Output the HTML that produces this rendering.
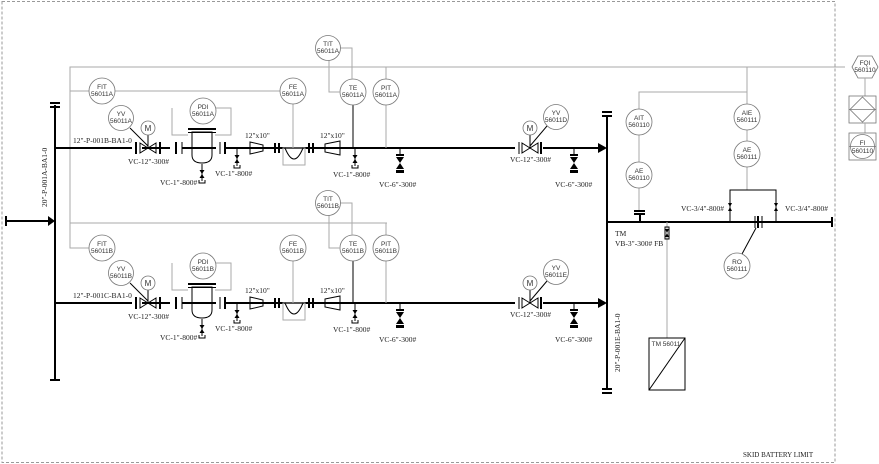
<!DOCTYPE html>
<html><head><meta charset="utf-8"><style>
html,body{margin:0;padding:0;background:#fff;}
svg{display:block;}
.s{font-family:"Liberation Serif",serif;font-size:7.5px;fill:#222;}
.b{font-family:"Liberation Sans",sans-serif;font-size:6.5px;fill:#333;text-anchor:middle;}
.g{stroke:#aaa;stroke-width:1;fill:none;}
.k{stroke:#000;stroke-width:2;fill:none;}
.t{stroke:#000;stroke-width:1;fill:none;}
.c{stroke:#777;stroke-width:0.8;fill:#fff;}
</style></head><body>
<svg width="879" height="464" viewBox="0 0 879 464" xmlns="http://www.w3.org/2000/svg">
<defs>
<g id="dr"><line x1="0" y1="0" x2="0" y2="17" class="t"/><path d="M-2.5,6 L2.5,6 L0,10 Z M-2.5,14 L2.5,14 L0,10 Z" fill="#000"/><path d="M-3,16 L-3,19 L3,19 L3,16" class="t"/></g>
<g id="v6"><line x1="0" y1="0" x2="0" y2="6" class="t"/><rect x="-4" y="6" width="8" height="2" fill="#000"/><path d="M-4,9 L4,9 L0,15 Z M-4,21 L4,21 L0,15 Z" fill="#000"/><rect x="-4" y="22" width="8" height="3" fill="#000"/></g>
</defs>
<rect x="2" y="1.5" width="833" height="461" fill="none" stroke="#999" stroke-dasharray="3,2"/>
<!-- left header -->
<line x1="55" y1="105" x2="55" y2="380" class="k"/>
<line x1="50" y1="103" x2="60" y2="103" class="k"/><line x1="50" y1="107" x2="60" y2="107" class="k" stroke-width="1.5"/>
<line x1="50" y1="380" x2="60" y2="380" class="k"/>
<line x1="6" y1="221" x2="50" y2="221" class="k"/><line x1="6" y1="216" x2="6" y2="226" class="k"/><path d="M48,216 L55,221 L48,226 Z"/>
<text class="s" transform="translate(47,207) rotate(-90)">20"-P-001A-BA1-0</text>
<!-- signal lines -->
<polyline points="845,67 70,67 70,248 90,248" class="g"/>
<line x1="70" y1="91" x2="280" y2="91" class="g"/>
<line x1="70" y1="223" x2="387" y2="223" class="g"/>

<!-- ROW A -->
<g id="rowA">
<line x1="55" y1="148" x2="600" y2="148" class="k"/><path d="M598,143 L607,148 L598,153 Z"/>
<text class="s" x="73" y="143">12"-P-001B-BA1-0</text>
<rect x="132" y="140" width="10" height="16" fill="#fff"/>
<line x1="136" y1="142" x2="136" y2="154" class="k"/>
<path d="M140,143 L156,153 L156,143 L140,153 Z" class="t" fill="#fff"/>
<line x1="160" y1="142" x2="160" y2="154" class="k"/>
<line x1="148" y1="148" x2="148" y2="135" class="t"/><circle cx="148" cy="128" r="7" class="c"/><text class="b" x="148" y="131" style="font-size:8px">M</text>
<line x1="148" y1="146" x2="130" y2="128" class="t" stroke-width="0.6"/>
<circle cx="121" cy="118" r="12.5" class="c"/><text class="b" x="121" y="116">YV</text><text class="b" x="121" y="123">56011A</text>
<circle cx="102" cy="91" r="13" class="c"/><text class="b" x="102" y="89">FIT</text><text class="b" x="102" y="96">56011A</text>
<text class="s" x="128" y="164">VC-12"-300#</text>
<rect x="170" y="140" width="12" height="16" fill="#fff"/>
<line x1="176" y1="142" x2="176" y2="154" class="k"/><line x1="182" y1="142" x2="182" y2="154" class="t"/>
<line x1="182" y1="148" x2="192" y2="148" class="t"/>
<polyline points="172,108 172,135 188,135" class="g" stroke="#888"/><polyline points="216,108 231,108 231,135 215,135" class="g" stroke="#888"/>
<circle cx="203" cy="111" r="13" class="c"/><text class="b" x="203" y="109">PDI</text><text class="b" x="203" y="116">56011A</text>
<path d="M192,132 L192,155 Q192,163 202,163 Q212,163 212,155 L212,132 Z" class="t" fill="#fff"/>
<line x1="188" y1="129" x2="216" y2="129" class="k"/><line x1="188" y1="132.5" x2="216" y2="132.5" class="t"/>
<line x1="212" y1="148" x2="220" y2="148" class="t"/>
<rect x="216" y="140" width="10" height="16" fill="#fff"/>
<line x1="220" y1="142" x2="220" y2="154" class="t"/><line x1="225" y1="142" x2="225" y2="154" class="k"/>
<use href="#dr" x="202" y="164"/><text class="s" x="160" y="185">VC-1"-800#</text>
<use href="#dr" x="237" y="149"/><text class="s" x="215" y="176">VC-1"-800#</text>
<path d="M250,142 L263,145 L263,151 L250,154 Z" class="t" fill="#fff"/><text class="s" x="245" y="138">12"x10"</text>
<line x1="275" y1="143" x2="275" y2="153" class="k"/><line x1="279" y1="143" x2="279" y2="153" class="k"/>
<rect x="283" y="148" width="22" height="17" class="g" stroke="#777"/><path d="M285,148 Q294,170 303,148" class="t"/>
<line x1="293" y1="104" x2="293" y2="148" class="g"/>
<circle cx="293" cy="91" r="13" class="c"/><text class="b" x="293" y="89">FE</text><text class="b" x="293" y="96">56011A</text>
<line x1="309" y1="143" x2="309" y2="153" class="k"/><line x1="313" y1="143" x2="313" y2="153" class="k"/>
<path d="M325,144 L340,141 L340,155 L325,152 Z" class="t" fill="#fff"/><text class="s" x="320" y="138">12"x10"</text>
<use href="#dr" x="355" y="149"/><text class="s" x="333" y="177">VC-1"-800#</text>
<line x1="353" y1="104" x2="353" y2="148" class="t" stroke="#777"/>
<circle cx="353" cy="92" r="13" class="c"/><text class="b" x="353" y="90">TE</text><text class="b" x="353" y="97">56011A</text>
<polyline points="340,92 329,92 329,60" class="g"/><polyline points="340,48 352,48 352,79" class="g"/>
<circle cx="328" cy="48" r="12.5" class="c"/><text class="b" x="328" y="46">TIT</text><text class="b" x="328" y="53">56011A</text>
<line x1="386" y1="67" x2="386" y2="80" class="g"/><line x1="386" y1="105" x2="386" y2="148" class="g"/>
<circle cx="386" cy="92" r="13" class="c"/><text class="b" x="386" y="90">PIT</text><text class="b" x="386" y="97">56011A</text>
<use href="#v6" x="400" y="148"/><text class="s" x="379" y="187">VC-6"-300#</text>
<rect x="515" y="140" width="28" height="16" fill="#fff"/>
<line x1="519" y1="142" x2="519" y2="154" class="t"/>
<path d="M522,143 L538,153 L538,143 L522,153 Z" class="t" fill="#fff"/>
<line x1="541" y1="142" x2="541" y2="154" class="k"/>
<line x1="530" y1="148" x2="530" y2="135" class="t"/><circle cx="530" cy="128" r="7" class="c"/><text class="b" x="530" y="131" style="font-size:8px">M</text>
<line x1="530" y1="146" x2="547" y2="126" class="t" stroke-width="0.6"/>
<circle cx="556" cy="117" r="12.5" class="c"/><text class="b" x="556" y="115">YV</text><text class="b" x="556" y="122">56011D</text>
<text class="s" x="510" y="162">VC-12"-300#</text>
<use href="#v6" x="574" y="148"/><text class="s" x="555" y="187">VC-6"-300#</text>
</g>

<!-- ROW B -->
<g transform="translate(0,155)">
<line x1="55" y1="148" x2="600" y2="148" class="k"/><path d="M598,143 L607,148 L598,153 Z"/>
<text class="s" x="73" y="143">12"-P-001C-BA1-0</text>
<rect x="132" y="140" width="10" height="16" fill="#fff"/>
<line x1="136" y1="142" x2="136" y2="154" class="k"/>
<path d="M140,143 L156,153 L156,143 L140,153 Z" class="t" fill="#fff"/>
<line x1="160" y1="142" x2="160" y2="154" class="k"/>
<line x1="148" y1="148" x2="148" y2="135" class="t"/><circle cx="148" cy="128" r="7" class="c"/><text class="b" x="148" y="131" style="font-size:8px">M</text>
<line x1="148" y1="146" x2="130" y2="128" class="t" stroke-width="0.6"/>
<circle cx="121" cy="118" r="12.5" class="c"/><text class="b" x="121" y="116">YV</text><text class="b" x="121" y="123">56011B</text>
<circle cx="102" cy="93" r="13" class="c"/><text class="b" x="102" y="91">FIT</text><text class="b" x="102" y="98">56011B</text>
<text class="s" x="128" y="164">VC-12"-300#</text>
<rect x="170" y="140" width="12" height="16" fill="#fff"/>
<line x1="176" y1="142" x2="176" y2="154" class="k"/><line x1="182" y1="142" x2="182" y2="154" class="t"/>
<line x1="182" y1="148" x2="192" y2="148" class="t"/>
<polyline points="172,108 172,135 188,135" class="g" stroke="#888"/><polyline points="216,108 231,108 231,135 215,135" class="g" stroke="#888"/>
<circle cx="203" cy="111" r="13" class="c"/><text class="b" x="203" y="109">PDI</text><text class="b" x="203" y="116">56011B</text>
<path d="M192,132 L192,155 Q192,163 202,163 Q212,163 212,155 L212,132 Z" class="t" fill="#fff"/>
<line x1="188" y1="129" x2="216" y2="129" class="k"/><line x1="188" y1="132.5" x2="216" y2="132.5" class="t"/>
<line x1="212" y1="148" x2="220" y2="148" class="t"/>
<rect x="216" y="140" width="10" height="16" fill="#fff"/>
<line x1="220" y1="142" x2="220" y2="154" class="t"/><line x1="225" y1="142" x2="225" y2="154" class="k"/>
<use href="#dr" x="202" y="164"/><text class="s" x="160" y="185">VC-1"-800#</text>
<use href="#dr" x="237" y="149"/><text class="s" x="215" y="176">VC-1"-800#</text>
<path d="M250,142 L263,145 L263,151 L250,154 Z" class="t" fill="#fff"/><text class="s" x="245" y="138">12"x10"</text>
<line x1="275" y1="143" x2="275" y2="153" class="k"/><line x1="279" y1="143" x2="279" y2="153" class="k"/>
<rect x="283" y="148" width="22" height="17" class="g" stroke="#777"/><path d="M285,148 Q294,170 303,148" class="t"/>
<line x1="293" y1="106" x2="293" y2="148" class="g"/>
<circle cx="293" cy="93" r="13" class="c"/><text class="b" x="293" y="91">FE</text><text class="b" x="293" y="98">56011B</text>
<line x1="309" y1="143" x2="309" y2="153" class="k"/><line x1="313" y1="143" x2="313" y2="153" class="k"/>
<path d="M325,144 L340,141 L340,155 L325,152 Z" class="t" fill="#fff"/><text class="s" x="320" y="138">12"x10"</text>
<use href="#dr" x="355" y="149"/><text class="s" x="333" y="177">VC-1"-800#</text>
<line x1="353" y1="106" x2="353" y2="148" class="t" stroke="#777"/>
<circle cx="353" cy="93" r="13" class="c"/><text class="b" x="353" y="91">TE</text><text class="b" x="353" y="98">56011B</text>
<polyline points="340,93 329,93 329,60" class="g"/><polyline points="340,48 352,48 352,80" class="g"/>
<circle cx="328" cy="48" r="12.5" class="c"/><text class="b" x="328" y="46">TIT</text><text class="b" x="328" y="53">56011B</text>
<line x1="386" y1="68" x2="386" y2="80" class="g"/><line x1="386" y1="106" x2="386" y2="148" class="g"/>
<circle cx="386" cy="93" r="13" class="c"/><text class="b" x="386" y="91">PIT</text><text class="b" x="386" y="98">56011B</text>
<use href="#v6" x="400" y="148"/><text class="s" x="379" y="187">VC-6"-300#</text>
<rect x="515" y="140" width="28" height="16" fill="#fff"/>
<line x1="519" y1="142" x2="519" y2="154" class="t"/>
<path d="M522,143 L538,153 L538,143 L522,153 Z" class="t" fill="#fff"/>
<line x1="541" y1="142" x2="541" y2="154" class="k"/>
<line x1="530" y1="148" x2="530" y2="135" class="t"/><circle cx="530" cy="128" r="7" class="c"/><text class="b" x="530" y="131" style="font-size:8px">M</text>
<line x1="530" y1="146" x2="547" y2="126" class="t" stroke-width="0.6"/>
<circle cx="556" cy="117" r="12.5" class="c"/><text class="b" x="556" y="115">YV</text><text class="b" x="556" y="122">56011E</text>
<text class="s" x="510" y="162">VC-12"-300#</text>
<use href="#v6" x="574" y="148"/><text class="s" x="555" y="187">VC-6"-300#</text>
</g>

<!-- right header -->
<line x1="607" y1="115" x2="607" y2="390" class="k"/>
<line x1="602" y1="112" x2="612" y2="112" class="k" stroke-width="1.5"/><line x1="602" y1="116" x2="612" y2="116" class="k" stroke-width="1.5"/>
<line x1="602" y1="389" x2="612" y2="389" class="k" stroke-width="1.5"/><line x1="602" y1="393" x2="612" y2="393" class="k" stroke-width="1.5"/>
<text class="s" transform="translate(620,372) rotate(-90)">20"-P-001E-BA1-0</text>
<line x1="607" y1="222" x2="832" y2="222" class="k"/><line x1="832" y1="217" x2="832" y2="227" class="k"/>
<!-- AIT / AE -->
<polyline points="639,109 639,92 747,92" class="g"/>
<line x1="639" y1="135" x2="639" y2="162" class="g"/><line x1="639" y1="188" x2="639" y2="210" class="g"/>
<circle cx="639" cy="122" r="13" class="c"/><text class="b" x="639" y="120">AIT</text><text class="b" x="639" y="127">560110</text>
<circle cx="639" cy="175" r="13" class="c"/><text class="b" x="639" y="173">AE</text><text class="b" x="639" y="180">560110</text>
<line x1="634" y1="211" x2="645" y2="211" class="k" stroke-width="1.5"/><line x1="634" y1="214" x2="645" y2="214" class="k" stroke-width="1.5"/><line x1="640" y1="214" x2="640" y2="222" class="k"/>
<!-- AIE -->
<line x1="747" y1="67" x2="747" y2="104" class="g"/><line x1="747" y1="130" x2="747" y2="141" class="g"/><line x1="747" y1="167" x2="747" y2="190" class="g"/>
<circle cx="747" cy="117" r="13" class="c"/><text class="b" x="747" y="115">AIE</text><text class="b" x="747" y="122">560111</text>
<circle cx="747" cy="154" r="13" class="c"/><text class="b" x="747" y="152">AE</text><text class="b" x="747" y="159">560111</text>
<polyline points="730,222 730,190 776,190 776,222" class="t" stroke-width="1.2"/>
<path d="M728,203 L732,203 L730,207 Z M728,211 L732,211 L730,207 Z" fill="#000"/>
<path d="M774,203 L778,203 L776,207 Z M774,211 L778,211 L776,207 Z" fill="#000"/>
<text class="s" x="681" y="211">VC-3/4"-800#</text><text class="s" x="785" y="211">VC-3/4"-800#</text>
<line x1="755" y1="216" x2="755" y2="228" class="t"/><line x1="758" y1="216" x2="758" y2="228" class="k"/><line x1="762" y1="216" x2="762" y2="228" class="t"/>
<line x1="756" y1="228" x2="742" y2="254" class="t" stroke="#666"/>
<circle cx="737" cy="266" r="13" class="c"/><text class="b" x="737" y="264">RO</text><text class="b" x="737" y="271">560111</text>
<!-- TM -->
<line x1="667" y1="222" x2="667" y2="338" class="g" stroke-width="1.3"/>
<rect x="665" y="227" width="4" height="12" fill="#fff" class="t"/><path d="M665,229 L669,229 L667,233 Z M665,237 L669,237 L667,233 Z" fill="#000"/>
<text class="s" x="615" y="236">TM</text><text class="s" x="615" y="246">VB-3"-300# FB</text>
<rect x="649" y="338" width="36" height="52" class="t"/><line x1="649" y1="390" x2="685" y2="338" class="t"/>
<text class="b" x="666" y="346" style="font-size:6.5px">TM 56011</text>
<!-- FQI -->
<polygon points="852,67 858,56 872,56 878,67 872,78 858,78" class="c"/>
<text class="b" x="865" y="65">FQI</text><text class="b" x="865" y="72">560110</text>
<line x1="865" y1="78" x2="865" y2="96" class="g"/>
<rect x="849" y="96" width="27" height="27" class="c"/><polygon points="862.5,97 875,109.5 862.5,122 850,109.5" class="c"/><line x1="849" y1="109.5" x2="876" y2="109.5" class="c"/>
<line x1="865" y1="123" x2="865" y2="133" class="g"/>
<rect x="849" y="133" width="27" height="27" class="c"/><circle cx="862.5" cy="146.5" r="12" class="c"/><line x1="849" y1="146.5" x2="876" y2="146.5" class="c"/>
<text class="b" x="862.5" y="145">FI</text><text class="b" x="862.5" y="153">560110</text>
<text class="s" x="743" y="457" style="font-size:7px">SKID BATTERY LIMIT</text>
</svg>
</body></html>
